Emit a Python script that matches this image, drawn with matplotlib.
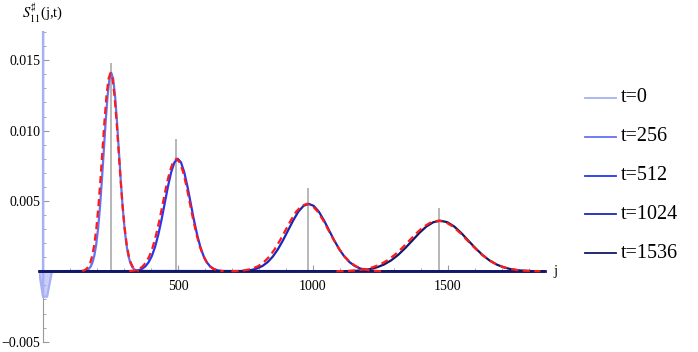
import matplotlib.pyplot as plt
from matplotlib.lines import Line2D
from matplotlib.ticker import MultipleLocator, FixedLocator, FixedFormatter

SERIF = 'Liberation Serif'
plt.rcParams['font.family'] = [SERIF, 'DejaVu Serif']
plt.rcParams['mathtext.fontset'] = 'stix'

labels = ['t=0', 't=256', 't=512', 't=1024', 't=1536']
colors = ['#a8b0f4', '#6472f4', '#2636f2', '#1a26b8', '#121868']

# t=0 : spike at j=0 plus a small negative dip
j_t0 = [-15, 0, 0, 0, 15, 33, 1860]
s_t0 = [0, -0.0018, 0.03, -0.0018, -0.0018, 0, 0]

# simulated S(j,t)
j_256 = [-15, 155, 162, 169, 176, 183, 190, 197, 204, 211, 218, 225, 232, 239, 246, 253,
         260, 267, 274, 281, 288, 295, 302, 309, 316, 323, 330, 337, 344, 351, 1860]
s_256 = [0, 0.00003, 0.00007, 0.00016, 0.00032, 0.00062, 0.00112, 0.00191, 0.00305, 0.00458,
         0.00646, 0.00855, 0.01064, 0.01244, 0.01367, 0.01410, 0.01367, 0.01244, 0.01064,
         0.00855, 0.00646, 0.00458, 0.00305, 0.00191, 0.00112, 0.00062, 0.00032, 0.00016,
         0.00007, 0.00003, 0]

j_512 = [-15, 331, 343, 355, 367, 379, 391, 403, 415, 427, 439, 451, 463, 475, 487, 499,
         511, 523, 535, 547, 559, 571, 583, 595, 607, 619, 631, 643, 655, 667, 1860]
s_512 = [0, 0.00002, 0.00004, 0.00009, 0.00018, 0.00035, 0.00064, 0.00108, 0.00173, 0.00260,
         0.00366, 0.00485, 0.00604, 0.00706, 0.00775, 0.00800, 0.00775, 0.00706, 0.00604,
         0.00485, 0.00366, 0.00260, 0.00173, 0.00108, 0.00064, 0.00035, 0.00018, 0.00009,
         0.00004, 0.00002, 0]

j_1024 = [-15, 718, 737, 756, 775, 794, 813, 832, 851, 870, 889, 908, 927, 946, 965, 984,
          1003, 1022, 1041, 1060, 1079, 1098, 1117, 1136, 1155, 1174, 1193, 1212, 1231, 1250, 1860]
s_1024 = [0, 0.00001, 0.00002, 0.00005, 0.00011, 0.00021, 0.00038, 0.00065, 0.00104, 0.00156,
          0.00220, 0.00291, 0.00362, 0.00424, 0.00465, 0.00480, 0.00465, 0.00424, 0.00362,
          0.00291, 0.00220, 0.00156, 0.00104, 0.00065, 0.00038, 0.00021, 0.00011, 0.00005,
          0.00002, 0.00001, 0]

j_1536 = [-15, 1108, 1134, 1160, 1186, 1212, 1238, 1264, 1290, 1316, 1342, 1368, 1394, 1420, 1446, 1472,
          1498, 1524, 1550, 1576, 1602, 1628, 1654, 1680, 1706, 1732, 1758, 1784, 1810, 1836, 1860]
s_1536 = [0, 0.00001, 0.00002, 0.00004, 0.00008, 0.00016, 0.00029, 0.00049, 0.00078, 0.00117,
          0.00165, 0.00218, 0.00272, 0.00318, 0.00349, 0.00360, 0.00349, 0.00318, 0.00272,
          0.00218, 0.00165, 0.00117, 0.00078, 0.00049, 0.00029, 0.00016, 0.00008, 0.00004,
          0.00002, 0.00001, 0]

# gaussian fits (red dashed)
fit_j_256 = [145, 152.5, 160, 167.5, 175, 182.5, 190, 197.5, 205, 212.5, 220, 227.5, 235, 242.5, 250,
             257.5, 265, 272.5, 280, 287.5, 295, 302.5, 310, 317.5, 325, 332.5, 340, 347.5, 355]
fit_j_512 = [319, 331.5, 344, 356.5, 369, 381.5, 394, 406.5, 419, 431.5, 444, 456.5, 469, 481.5, 494,
             506.5, 519, 531.5, 544, 556.5, 569, 581.5, 594, 606.5, 619, 631.5, 644, 656.5, 669]
fit_j_1024 = [698, 718, 738, 758, 778, 798, 818, 838, 858, 878, 898, 918, 938, 958, 978,
              998, 1018, 1038, 1058, 1078, 1098, 1118, 1138, 1158, 1178, 1198, 1218, 1238, 1258]
fit_j_1536 = [1087, 1114, 1141, 1168, 1195, 1222, 1249, 1276, 1303, 1330, 1357, 1384, 1411, 1438, 1465,
              1492, 1519, 1546, 1573, 1600, 1627, 1654, 1681, 1708, 1735, 1762, 1789, 1816, 1843]

# gray markers
mark_j = [251, 494, 981, 1467]
mark_h = [0.0148, 0.0094, 0.0059, 0.0045]

yticks = [-0.005, 0.005, 0.010, 0.015]
ytick_labels = ['\u22120.005', '0.005', '0.010', '0.015']
xticks = [500, 1000, 1500]
xtick_labels = ['500', '1000', '1500']

fig = plt.figure(figsize=(6.98, 3.52), dpi=100)
ax = fig.add_axes([39 / 698, 10.3 / 352, 506 / 698, 311 / 352])

ax.vlines(mark_j, 0, mark_h, color='#aaaaaa', lw=1.2, zorder=1)

curves = [(j_t0, s_t0), (j_256, s_256), (j_512, s_512), (j_1024, s_1024), (j_1536, s_1536)]
ax.fill(j_t0[:6], s_t0[:6], color=colors[0], alpha=0.6, lw=0, zorder=2)
for (jj, ss), c in zip(curves, colors):
    ax.plot(jj, ss, color=c, lw=1.6, zorder=2)

fits = [(fit_j_256, s_256[1:-1]), (fit_j_512, s_512[1:-1]),
        (fit_j_1024, s_1024[1:-1]), (fit_j_1536, s_1536[1:-1])]
for jj, ss in fits:
    ax.plot(jj, ss, color='#ff1a1a', lw=1.6, ls=(0, (3.2, 2.0)), zorder=3)

ax.set_xlim(-15, 1860)
ax.set_ylim(-0.005, 0.0171)

for s in ['top', 'right']:
    ax.spines[s].set_visible(False)
ax.spines['left'].set_position(('data', 0))
ax.spines['bottom'].set_position(('data', 0))
ax.spines['left'].set_color('#999999')
ax.spines['left'].set_zorder(1)
ax.spines['bottom'].set_color(colors[4])
ax.spines['bottom'].set_linewidth(2.0)

ax.set_xticks(xticks)
ax.set_xticklabels(xtick_labels, fontfamily=SERIF, fontsize=10)
ax.set_yticks(yticks)
ax.set_yticklabels(ytick_labels, fontfamily=SERIF, fontsize=10)
ax.xaxis.set_minor_locator(MultipleLocator(100))
ax.yaxis.set_minor_locator(MultipleLocator(0.001))
ax.tick_params(which='both', direction='in', color='#999999')
ax.tick_params(which='major', length=4, width=0.8)
ax.tick_params(which='minor', length=2.2, width=0.6)
ax.tick_params(axis='x', pad=6)
ax.tick_params(axis='y', pad=2)

fig.text(22 / 698, 1 - 13 / 352, r'$S_{11}^{\sharp}$(j,t)', fontsize=10.5, va='center', fontfamily=SERIF)
fig.text(553 / 698, 1 - 271 / 352, 'j', fontsize=10.5, va='center', fontfamily=SERIF)

# legend drawn by hand on the right
for i, (lab, c) in enumerate(zip(labels, colors)):
    y = 1 - (98 + i * 38.8) / 352
    fig.add_artist(Line2D([585 / 698, 616 / 698], [y, y], color=c, lw=1.3))
    fig.text(621 / 698, y, lab, fontsize=14.5, va='center', fontfamily=SERIF)

fig.savefig('out.png', dpi=100)
